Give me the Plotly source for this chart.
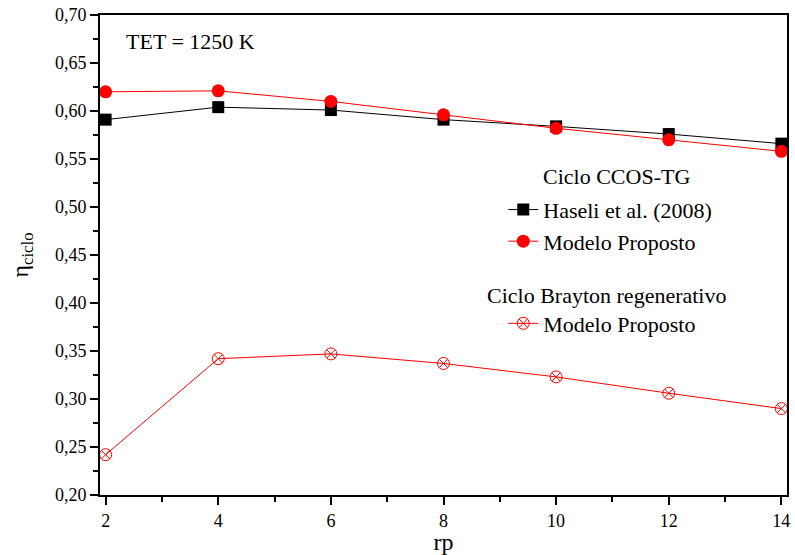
import plotly.graph_objects as go

rp = [2, 4, 6, 8, 10, 12, 14]
haseli = [0.591, 0.604, 0.601, 0.591, 0.584, 0.576, 0.566]
modelo_ccos = [0.620, 0.621, 0.610, 0.596, 0.582, 0.570, 0.558]
modelo_brayton = [0.242, 0.342, 0.347, 0.337, 0.323, 0.306, 0.290]

FONT = "Liberation Serif"
LEG = 22

fig = go.Figure()
fig.add_trace(go.Scatter(
    x=rp, y=haseli, mode="lines+markers", name="Haseli et al. (2008)",
    line=dict(color="black", width=1),
    marker=dict(symbol="square", size=12, color="black"),
    legend="legend"))
fig.add_trace(go.Scatter(
    x=rp, y=modelo_ccos, mode="lines+markers", name="Modelo Proposto",
    line=dict(color="red", width=1),
    marker=dict(symbol="circle", size=13, color="red"),
    legend="legend"))
fig.add_trace(go.Scatter(
    x=rp, y=modelo_brayton, mode="lines+markers", name="Modelo Proposto",
    line=dict(color="red", width=1),
    marker=dict(symbol="circle-x-open", size=12, color="red", line=dict(width=1)),
    legend="legend2"))

axis_common = dict(
    showgrid=False, zeroline=False, showline=True, linecolor="black",
    linewidth=2, mirror=True, ticks="outside", ticklen=8, tickwidth=2,
    tickcolor="black", tickfont=dict(family=FONT, size=18, color="black"),
)

fig.update_xaxes(
    range=[1.9, 14.1], tickvals=[2, 4, 6, 8, 10, 12, 14],
    minor=dict(dtick=1, tick0=1, ticks="outside", ticklen=5, tickwidth=2, tickcolor="black"),
    title=dict(text="rp", font=dict(family=FONT, size=24, color="black"), standoff=2),
    **axis_common)
fig.update_yaxes(
    range=[0.2, 0.7], dtick=0.05, tickformat=".2f",
    minor=dict(dtick=0.025, ticks="outside", ticklen=5, tickwidth=2, tickcolor="black"),
    title=dict(text="η<sub>ciclo</sub>", font=dict(family=FONT, size=24, color="black"), standoff=20),
    **axis_common)

fig.update_layout(
    width=795, height=555,
    margin=dict(l=100, r=5, t=15, b=60),
    plot_bgcolor="white", paper_bgcolor="white",
    separators=", ",
    font=dict(family=FONT, color="black"),
    legend=dict(x=0.587, y=0.638, xanchor="left", yanchor="top",
                bgcolor="rgba(0,0,0,0)", font=dict(family=FONT, size=LEG, color="black"),
                tracegroupgap=0, itemwidth=30),
    legend2=dict(x=0.587, y=0.401, xanchor="left", yanchor="top",
                 bgcolor="rgba(0,0,0,0)", font=dict(family=FONT, size=LEG, color="black"),
                 itemwidth=30),
    annotations=[
        dict(text="TET = 1250 K", x=0.035, y=0.945, xref="paper", yref="paper",
             xanchor="left", yanchor="middle", showarrow=False,
             font=dict(family=FONT, size=LEG, color="black")),
        dict(text="Ciclo CCOS-TG", x=0.752, y=0.663, xref="paper", yref="paper",
             xanchor="center", yanchor="middle", showarrow=False,
             font=dict(family=FONT, size=LEG, color="black")),
        dict(text="Ciclo Brayton regenerativo", x=0.561, y=0.415, xref="paper", yref="paper",
             xanchor="left", yanchor="middle", showarrow=False,
             font=dict(family=FONT, size=LEG, color="black")),
    ],
)

fig.write_html("out.html", config={"displayModeBar": False},
               post_script="document.body.style.margin='0px';")
